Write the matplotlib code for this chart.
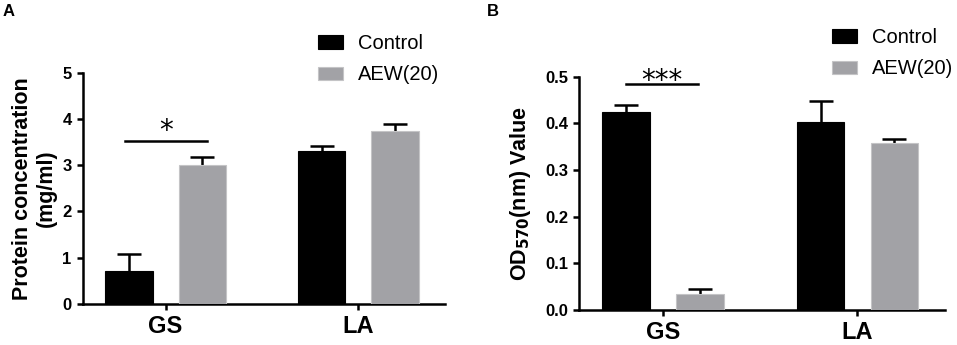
import matplotlib.pyplot as plt
import numpy as np

plt.rcParams['font.family'] = ['Liberation Sans', 'DejaVu Sans']

groups = ['GS', 'LA']
series = ['Control', 'AEW(20)']
colors = ['#000000', '#a2a2a6']
edges = ['#000000', '#c4c4c6']

# panel A: protein concentration (mg/ml)
prot_mean = [[0.72, 3.30], [3.01, 3.74]]
prot_err = [[0.36, 0.11], [0.16, 0.16]]
# panel B: OD570 value
od_mean = [[0.424, 0.403], [0.034, 0.358]]
od_err = [[0.015, 0.044], [0.010, 0.008]]

W, H = 957, 345
fig = plt.figure(figsize=(W / 100, H / 100), dpi=100)


def draw_panel(ax, means, errs, yticks, fmt, ylabel, pad, sig, leg_xy):
    x = np.arange(len(groups))
    width = 0.245
    offs = [-0.19, 0.19]
    for i, name in enumerate(series):
        ax.bar(x + offs[i], means[i], width, color=colors[i], edgecolor=edges[i],
               linewidth=0.8, label=name, zorder=3)
        # only the upper whisker shows, the lower one is hidden behind the bar
        ax.errorbar(x + offs[i], means[i], yerr=errs[i],
                    fmt='none', ecolor='black', elinewidth=1.8, capsize=8.5,
                    capthick=1.8, zorder=2)
    ax.set_xlim(-0.43, 1.45)
    ax.set_ylim(yticks[0], yticks[-1])
    ax.set_yticks(yticks)
    ax.set_yticklabels([fmt.format(v) for v in yticks], fontsize=12, fontweight='bold')
    ax.set_xticks(x)
    ax.set_xticklabels(groups, fontsize=17, fontweight='bold')
    ax.spines['top'].set_visible(False)
    ax.spines['right'].set_visible(False)
    for s in ['left', 'bottom']:
        ax.spines[s].set_linewidth(1.8)
    ax.tick_params(width=1.8, length=4.5)
    ax.set_ylabel(ylabel, fontsize=15.5, fontweight='bold', labelpad=pad)
    # significance bar
    x0, x1, yl, yt, label = sig
    ax.plot([x0, x1], [yl, yl], color='black', lw=1.8, clip_on=False)
    ax.text((x0 + x1) / 2, yt, label, ha='center', va='baseline', fontsize=20,
            family='DejaVu Sans')
    ax.legend(loc='upper left', bbox_to_anchor=(leg_xy[0] / W, 1 - leg_xy[1] / H),
              bbox_transform=fig.transFigure, frameon=False, fontsize=14.5,
              handlelength=1.25, handleheight=0.65, handletextpad=0.75,
              labelspacing=0.62, borderpad=0, borderaxespad=0)


axA = fig.add_axes([82.7 / W, 1 - 304 / H, (445 - 82.7) / W, (304 - 72.7) / H])
draw_panel(axA, prot_mean, prot_err, np.arange(0, 6, 1), '{:.0f}',
           'Protein concentration\n(mg/ml)', 4, (-0.208, 0.215, 3.53, 3.57, '*'), (318, 34))

axB = fig.add_axes([579.3 / W, 1 - 310 / H, (945 - 579.3) / W, (310 - 76.7) / H])
draw_panel(axB, od_mean, od_err, np.round(np.arange(0, 0.6, 0.1), 1), '{:.1f}',
           r'OD$_{\mathbf{570}}$(nm) Value', 9, (-0.19, 0.18, 0.4836, 0.4745, '***'), (832, 28))

fig.text(3 / W, 1 - 11 / H, 'A', fontsize=12, fontweight='bold', va='center')
fig.text(487 / W, 1 - 11 / H, 'B', fontsize=12, fontweight='bold', va='center')

fig.savefig('out.png', dpi=100)
